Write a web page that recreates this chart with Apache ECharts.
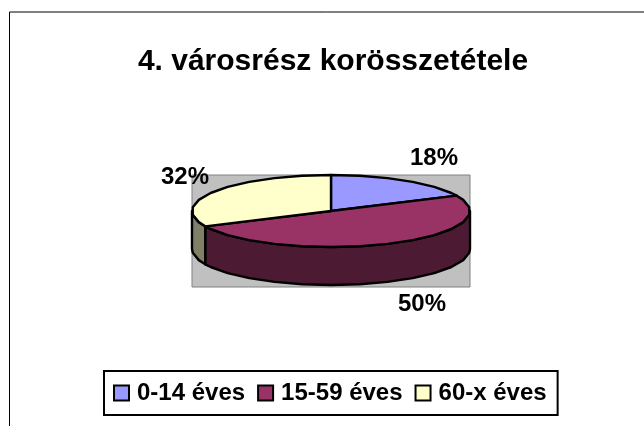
<!DOCTYPE html>
<html><head><meta charset="utf-8">
<style>html,body{margin:0;padding:0;background:#fff}#c{width:644px;height:426px}</style>
<script src="https://cdn.jsdelivr.net/npm/echarts@6/dist/echarts.min.js"></script>
</head><body><div id="c"></div>
<script>
var categories = ['0-14 éves', '15-59 éves', '60-x éves'];
var values = [18, 50, 32];
var titleText = '4. városrész korösszetétele';

var topColors = ['#9999FF', '#993366', '#FFFFCC'];
var sideColors = ['#4D4D80', '#4D1A33', '#808066'];
var labelPos = [[434, 158], [422, 304], [185, 177]];
var FONT = '"Liberation Sans", Arial, sans-serif';
var pie = {cx: 331, cy: 211, rx: 139, ry: 36, depth: 38, step: 12};

var total = values.reduce(function (a, b) { return a + b; }, 0);
function pt(deg, dy) {
  var r = deg * Math.PI / 180;
  return [pie.cx + pie.rx * Math.sin(r), pie.cy - pie.ry * Math.cos(r) + (dy || 0)];
}
function arc(a, b, dy) {
  var out = [], d = a;
  while (d < b) { out.push(pt(d, dy)); d += pie.step - (d % pie.step); }
  out.push(pt(b, dy));
  return out;
}
function makeRender(i) {
  return function (params, api) {
    var before = 0;
    for (var k = 0; k < i; k++) before += values[k];
    var a = before / total * 360, b = a + api.value(0) / total * 360;
    var kids = [];
    var s = Math.max(a, 90), e = Math.min(b, 270);
    if (s < e) {
      kids.push({
        type: 'polygon',
        shape: {points: arc(s, e, 0).concat(arc(s, e, pie.depth).reverse())},
        style: {fill: sideColors[i], stroke: '#000', lineWidth: 2.4, lineJoin: 'round'}
      });
    }
    kids.push({
      type: 'polygon',
      shape: {points: [[pie.cx, pie.cy]].concat(arc(a, b, 0))},
      style: {fill: topColors[i], stroke: '#000', lineWidth: 2.4, lineJoin: 'round'}
    });
    kids.push({
      type: 'text', z2: 50,
      style: {
        x: labelPos[i][0], y: labelPos[i][1],
        text: Math.round(api.value(0) / total * 100) + '%',
        fill: '#000', font: 'bold 24px ' + FONT, align: 'center', verticalAlign: 'middle'
      }
    });
    return {type: 'group', children: kids};
  };
}
var series = categories.map(function (name, i) {
  return {
    type: 'custom', name: name, coordinateSystem: 'none', silent: true,
    animation: false, z: 5 + i,
    itemStyle: {color: topColors[i], borderColor: '#000', borderWidth: 2},
    renderItem: makeRender(i), data: [[values[i]]]
  };
});
var chart = echarts.init(document.getElementById('c'), null, {renderer: 'canvas'});
chart.setOption({
  backgroundColor: '#fff',
  animation: false,
  title: {
    text: titleText, left: 328, top: 42, textAlign: 'center',
    textStyle: {fontFamily: FONT, fontWeight: 'bold', fontSize: 30, color: '#000'}
  },
  legend: {
    data: categories, left: 104, top: 371, selectedMode: false,
    icon: 'rect', itemWidth: 15, itemHeight: 15, itemGap: 12,
    padding: [10, 11, 10, 9], borderColor: '#000', borderWidth: 2, backgroundColor: '#fff',
    textStyle: {fontFamily: FONT, fontWeight: 'bold', fontSize: 24, color: '#000', padding: [0, 0, 0, 3]}
  },
  graphic: [
    {type: 'line', silent: true, shape: {x1: 9.5, y1: 12, x2: 644, y2: 12}, style: {stroke: '#000', lineWidth: 1}},
    {type: 'line', silent: true, shape: {x1: 9.5, y1: 12, x2: 9.5, y2: 426}, style: {stroke: '#000', lineWidth: 1}},
    {type: 'rect', silent: true, z: -1, shape: {x: 192, y: 175, width: 278, height: 112},
      style: {fill: '#C0C0C0', stroke: '#808080', lineWidth: 1}}
  ],
  series: series
});
</script></body></html>
